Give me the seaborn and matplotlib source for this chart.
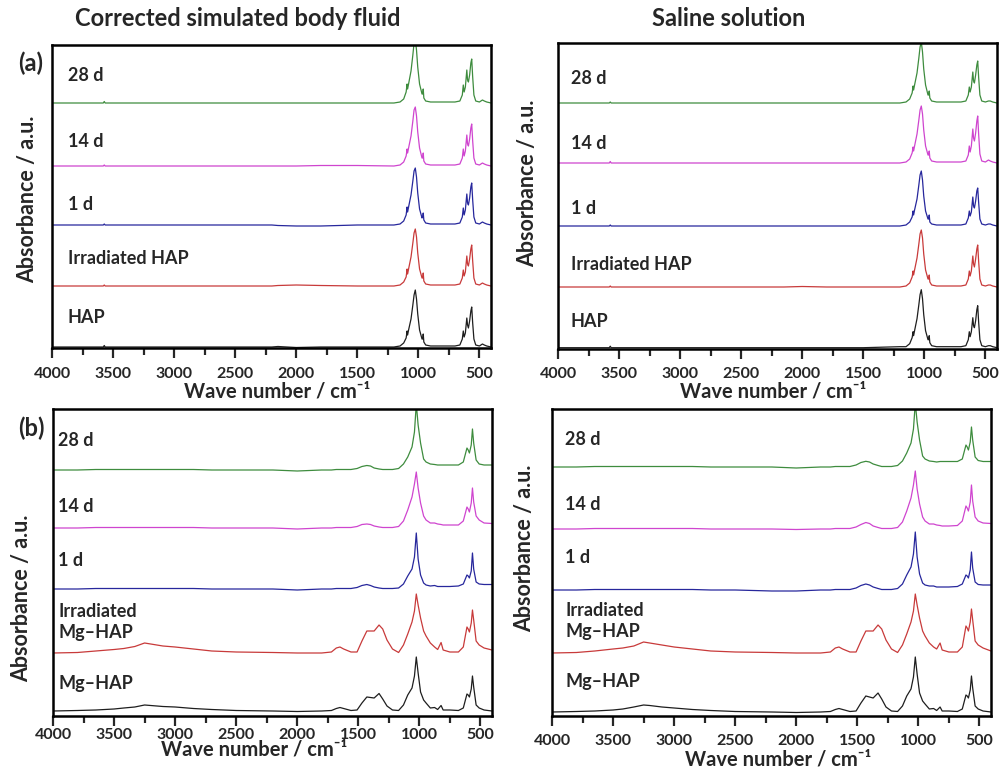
import numpy as np
import pandas as pd
import matplotlib
matplotlib.use("Agg")
import matplotlib.pyplot as plt
import seaborn as sns
from matplotlib.ticker import MultipleLocator

# wavenumber grids (cm-1)
wn_a = [4000, 3700, 3580, 3572, 3565, 3000, 2500, 2200, 2150, 2000, 1800, 1500, 1200, 1150, 1120,
        1100, 1092, 1088, 1080, 1060, 1045, 1035, 1025, 1015, 1005, 990, 970, 964, 960, 955,
        940, 900, 700, 660, 640, 632, 625, 615, 603, 597, 590, 580, 570, 563, 555,
        545, 530, 500, 475, 460, 440, 405]
wn_b = [4000, 3800, 3650, 3500, 3420, 3330, 3250, 3200, 3100, 3000, 2850, 2700, 2500, 2200, 2000,
        1800, 1720, 1680, 1650, 1620, 1560, 1510, 1470, 1430, 1400, 1370, 1330, 1300, 1265, 1220,
        1170, 1130, 1095, 1060, 1040, 1025, 1010, 990, 965, 945, 910, 875, 850, 822, 805,
        750, 680, 640, 610, 600, 590, 575, 565, 555, 535, 510, 470, 405]

samples_a = ["HAP", "Irradiated HAP", "1 d", "14 d", "28 d"]
samples_b = ["Mg–HAP", "Irradiated\nMg–HAP", "1 d", "14 d", "28 d"]
colors = ["#1e1e1e", "#c83a3a", "#27279c", "#cf45cf", "#3e8c3e"]

# (a) corrected simulated body fluid, absorbance above each baseline
a_cbf_hap = [0, 0, 0, 1.5, 0, 0, 0, 0, 0.5, -0.5, 0, 0, 0, 1, 4,
             9, 16, 12, 17, 28, 42, 52, 57, 48, 33, 17, 8, 8, 13, 5,
             2, 1, 1, 2, 8, 16, 10, 14, 29, 22, 19, 26, 36, 40, 24,
             8, 2, 1, 3, 2, 1, 0]
a_cbf_irr = [0, 0, 0, 1, 0, 0, 0, 0, 0.5, 1, 0.5, 0, 0, 1, 4,
             9, 17, 12, 17, 29, 43, 53, 57, 49, 33, 17, 8, 8, 13, 5,
             2, 1, 1, 2, 8, 16, 10, 14, 30, 22, 20, 27, 37, 41, 25,
             8, 2, 1, 3, 2, 1, 0]
a_cbf_1d = [0, 0, 0, 1, 0, 0, 0, 0, -0.5, -1, -1, 0, 0, 1, 4,
            10, 18, 13, 18, 30, 44, 54, 57, 48, 32, 16, 7, 8, 12, 5,
            2, 1, 1, 2, 8, 17, 10, 15, 31, 22, 20, 27, 38, 42, 25,
            8, 2, 1, 3, 2, 1, 0]
a_cbf_14d = [0, 0, 0, 1, 0, 0, 0, 0, 0, 0, 0.5, 0.5, 0, 1, 4,
             10, 17, 13, 18, 30, 45, 56, 59, 50, 34, 18, 8, 8, 13, 5,
             2, 1, 1, 2, 8, 17, 10, 15, 31, 22, 20, 27, 38, 42, 25,
             8, 2, 1, 3, 2, 1, 0]
a_cbf_28d = [0, 0, 0, 1.5, 0, 0, 0, 0, 0, 0, 0, 0, 0, 1, 4,
             11, 19, 14, 19, 32, 48, 60, 63, 53, 36, 19, 9, 9, 14, 5,
             2, 1, 1, 2, 8, 18, 11, 16, 33, 23, 21, 28, 40, 44, 26,
             8, 2, 1, 3, 2, 1, 0]

# (a) saline solution
a_sal_hap = [0, 0, 0, 1.5, 0, 0, 0, 0, 0, 0, 0, 0, 1, 1, 4,
             10, 16, 12, 17, 29, 43, 53, 58, 49, 33, 17, 8, 8, 12, 5,
             2, 1, 1, 2, 8, 16, 11, 16, 30, 22, 20, 27, 38, 42, 25,
             8, 2, 1, 2, 2, 1, 0]
a_sal_irr = [0, 0, 0, 1, 0, 0, 0, 0, 0, 0.5, 0, 0, 0, 1, 4,
             10, 16, 12, 17, 29, 43, 53, 57, 49, 33, 17, 8, 8, 12, 5,
             2, 1, 1, 2, 8, 16, 11, 16, 31, 23, 20, 28, 38, 42, 25,
             8, 2, 1, 2, 2, 1, 0]
a_sal_1d = [0, 0, 0, 1, 0, 0, 0, 0, 0, 0, 0, 0, 0, 1, 4,
            9, 15, 11, 16, 27, 41, 51, 55, 46, 30, 15, 7, 7, 11, 4,
            2, 1, 1, 2, 8, 15, 10, 14, 29, 20, 18, 25, 35, 38, 23,
            7, 2, 1, 2, 2, 1, 0]
a_sal_14d = [0, 0, 0, 1.5, 0, 0, 0, 0, 0, 0, 0, 0, 0, 1, 4,
             10, 16, 12, 17, 29, 43, 53, 57, 49, 33, 17, 8, 8, 12, 5,
             2, 1, 1, 2, 8, 17, 11, 17, 34, 25, 22, 30, 42, 47, 28,
             9, 2, 1, 3, 2, 1, 0]
a_sal_28d = [0, 0, 0, 1, 0, 0, 0, 0, 0, 0, 0, 0, 0, 1, 4,
             10, 17, 13, 18, 30, 45, 56, 61, 51, 34, 18, 8, 8, 12, 5,
             2, 1, 1, 2, 8, 16, 11, 16, 31, 22, 20, 28, 38, 42, 25,
             8, 2, 1, 2, 2, 1, 0]

# (b) corrected simulated body fluid
b_cbf_hap = [0, 0.5, 1, 2, 3, 4, 6, 5.5, 4.5, 4, 2.5, 1.5, 0.5, 0, -0.5,
             0, 0.5, 2.5, 3.5, 2.5, 0.5, 1, 8, 14, 13.5, 13, 17.5, 12, 5, 1,
             0.5, 6, 16, 23, 35, 54, 38, 19, 11, 8, 3, 3.5, 1.5, 5.5, 1,
             1, 0.5, 3, 17, 16, 14, 22, 35, 24, 6, 3, 1, 0]
b_cbf_irr = [0, 0.5, 2, 3.5, 4.5, 6.5, 10, 9, 7, 6, 4, 2, 1, 0.5, 0,
             0, 1, 5, 6, 4, 1, 1, 12, 22, 22, 22, 28, 24, 13, 4,
             0.5, 8, 19, 31, 42, 59, 48, 35, 22, 17, 10, 6, 3.5, 10.5, 3,
             1, 1, 6, 26, 24, 21, 30, 43, 33, 12, 8, 5, 3]
b_cbf_1d = [0, 0, 0.5, 0.5, 0.5, 0.5, 0.5, 0.5, 0.5, 0.5, 0.5, 0, 0, 0, -1,
            0, 0, 0.5, 0.5, 0.5, 0.5, 1.5, 3.5, 4.5, 3.5, 2, 1, 0.5, 0.5, 0.5,
            1, 5, 13, 20, 32, 56, 30, 14, 6, 4, 3, 3.5, 2.5, 2.5, 2.5,
            2.5, 3, 5, 14, 13, 11, 18, 36, 20, 7, 5, 4.5, 4.5]
b_cbf_14d = [0, 0, 0.5, 0.5, 0.5, 0.5, 0.5, 0.5, 0.5, 0.5, 0.5, 0, 0, 0, -1,
             0, 0, 0.5, 0.5, 0.5, 0.5, 1.5, 3.5, 4, 3.5, 2, 1, 0.5, 0.5, 0.5,
             1.5, 7, 18, 31, 44, 56, 40, 25, 12, 8, 5, 5, 4, 3.5, 3,
             3, 3, 7, 21, 19, 16, 25, 40, 26, 12, 8, 5, 4.5]
b_cbf_28d = [0, 0, 0.5, 0.5, 0.5, 0.5, 0.5, 0.5, 0.5, 0.5, 0.5, 0, 0, 0, -1,
             0, 0, 0.5, 0.5, 0.5, 0.5, 1.5, 3.5, 4.5, 4, 2, 1, 0.5, 0.5, 0.5,
             1.5, 6, 13, 23, 38, 66, 45, 27, 11, 8, 6, 5.5, 5, 5, 5,
             5, 5, 8, 22, 20, 17, 25, 41, 27, 10, 6, 5, 5]

# (b) saline solution
b_sal_hap = [0, 0.5, 1, 2, 3, 5, 7, 6.5, 5, 4, 2.5, 1.5, 0.5, 0, -0.5,
             0, 0.5, 2.5, 3.5, 2.5, 0.5, 1, 9, 16, 15, 14, 19, 13, 5, 1,
             0.5, 6, 16, 23, 35, 55, 38, 19, 11, 8, 3, 3.5, 1.5, 5, 1,
             1, 0.5, 3, 17, 16, 14, 22, 36, 24, 6, 3, 1, 0]
b_sal_irr = [0, 0.5, 2, 4, 5, 7, 11, 10, 8, 6, 4, 2, 1, 0.5, 0,
             0, 1, 5, 6, 4, 1, 1, 12, 22, 22, 22, 28, 24, 13, 4,
             0.5, 8, 19, 31, 42, 59, 48, 35, 22, 17, 10, 6, 4, 10, 3,
             1, 1, 6, 27, 25, 22, 31, 44, 33, 12, 8, 5, 2]
b_sal_1d = [0, 0, 0.5, 0.5, 0.5, 0.5, 0.5, 0.5, 0.5, 0.5, 0.5, 0, 0, -1, -1,
            0, 0, 0.5, 0.5, 0.5, 0.5, 2, 4.5, 6, 5, 3, 1.5, 0.5, 0.5, 0.5,
            1.5, 6, 15, 23, 36, 58, 33, 16, 7, 5, 4, 4, 3, 3, 3,
            3, 3.5, 6, 15, 14, 12, 20, 38, 22, 8, 5.5, 5, 5]
b_sal_14d = [0, 0, 0.5, 0.5, 0.5, 0.5, 0.5, 0.5, 0.5, 0.5, 0.5, 0, 0, 0, -0.5,
             0, 0, 0.5, 0.5, 0.5, 0.5, 2, 4.5, 6.5, 5.5, 3, 1.5, 0.5, 0.5, 0.5,
             1.5, 7, 18, 31, 44, 58, 40, 25, 12, 8, 5, 5, 4, 3.5, 3,
             3, 3.5, 8, 23, 21, 18, 27, 44, 28, 12, 8, 6, 5.5]
b_sal_28d = [0, 0, 0.5, 0.5, 0.5, 0.5, 0.5, 0.5, 0.5, 0.5, 0.5, 0, 0, 0, -1,
             0, 0, 0.5, 0.5, 0.5, 0.5, 2, 4.5, 5.7, 5, 3, 1.5, 0.5, 0.5, 0.5,
             1.5, 6, 14, 24, 38, 64, 45, 27, 11, 8, 6, 5.5, 5, 5.5, 5.5,
             5.5, 5.5, 8, 22, 20, 17, 25, 40, 27, 10, 6.5, 5.5, 5.5]

# vertical stacking offsets of the five traces, bottom to top
offsets_tl = [1, 62, 123, 182, 245]
offsets_tr = [1.3, 62, 123, 186, 246]
offsets_bl = [5, 63, 127, 188, 246]
offsets_br = [4, 63, 126, 187, 249]

sns.set_style("white")
plt.rcParams["font.family"] = ["Lato", "DejaVu Sans"]
plt.rcParams["font.weight"] = "bold"

W, H = 1005, 769
fig = plt.figure(figsize=(W / 100, H / 100), dpi=100)


def px_axes(x0, y0, x1, y1):
    return fig.add_axes([x0 / W, 1 - y1 / H, (x1 - x0) / W, (y1 - y0) / H])


panels = [
    # box in pixels, grid, traces, names, offsets, label y (axes frac), label x, tick pad
    ((52, 45, 491, 348), wn_a, [a_cbf_hap, a_cbf_irr, a_cbf_1d, a_cbf_14d, a_cbf_28d], samples_a,
     offsets_tl, [0.102, 0.294, 0.472, 0.683, 0.90], 0.036, 7),
    ((558, 43, 997, 349), wn_a, [a_sal_hap, a_sal_irr, a_sal_1d, a_sal_14d, a_sal_28d], samples_a,
     offsets_tr, [0.089, 0.275, 0.46, 0.67, 0.885], 0.029, 6),
    ((53, 409, 492, 716), wn_b, [b_cbf_hap, b_cbf_irr, b_cbf_1d, b_cbf_14d, b_cbf_28d], samples_b,
     offsets_bl, [0.106, 0.305, 0.508, 0.682, 0.899], 0.012, 1.5),
    ((552, 409, 991, 716), wn_b, [b_sal_hap, b_sal_irr, b_sal_1d, b_sal_14d, b_sal_28d], samples_b,
     offsets_br, [0.112, 0.309, 0.517, 0.69, 0.901], 0.03, 6),
]

for box, grid, traces, names, offs, label_y, label_x, pad in panels:
    ax = px_axes(*box)
    rows = []
    for name, vals, off in zip(names, traces, offs):
        for w, v in zip(grid, vals):
            rows.append({"wn": w, "A": v + off, "sample": name})
    df = pd.DataFrame(rows)
    sns.lineplot(data=df, x="wn", y="A", hue="sample", hue_order=names,
                 palette=colors, estimator=None, sort=False, legend=False,
                 linewidth=0.9, ax=ax)
    ax.set_xlim(4000, 405)
    ax.set_ylim(0, box[3] - box[1])
    ax.set_yticks([])
    ax.set_xlabel("")
    ax.set_ylabel("")
    ax.xaxis.set_major_locator(MultipleLocator(500))
    ax.xaxis.set_minor_locator(MultipleLocator(250))
    ax.tick_params(axis="x", which="major", direction="out", length=7, width=1.6,
                   labelsize=11.5, pad=pad, bottom=True, top=False)
    ax.tick_params(axis="x", which="minor", direction="out", length=5, width=1.6,
                   bottom=True, top=False)
    for s in ax.spines.values():
        s.set_linewidth(1.8)
        s.set_color("black")
    for name, ly in zip(names, label_y):
        ax.text(label_x, ly, name, transform=ax.transAxes, fontsize=13,
                fontweight="bold", va="center", ha="left", linespacing=1.3)

# titles, panel letters and axis labels
fig.text(238 / W, 1 - 18 / H, "Corrected simulated body fluid", ha="center", va="center",
         fontsize=17, fontweight="bold")
fig.text(729 / W, 1 - 18 / H, "Saline solution", ha="center", va="center",
         fontsize=17, fontweight="bold")
fig.text(31 / W, 1 - 63 / H, "(a)", ha="center", va="center", fontsize=17, fontweight="bold")
fig.text(31 / W, 1 - 428 / H, "(b)", ha="center", va="center", fontsize=17, fontweight="bold")

for x, y in [(28, 199), (528, 183), (22, 598), (525, 548)]:
    fig.text(x / W, 1 - y / H, "Absorbance / a.u.", rotation=90, ha="center", va="center",
             fontsize=15.5, fontweight="bold")
for x, y in [(277, 392), (773, 392), (254, 750), (778, 760)]:
    fig.text(x / W, 1 - y / H, "Wave number / cm⁻¹", ha="center", va="center",
             fontsize=14.5, fontweight="bold")

fig.savefig("out.png", dpi=100, facecolor="white")
